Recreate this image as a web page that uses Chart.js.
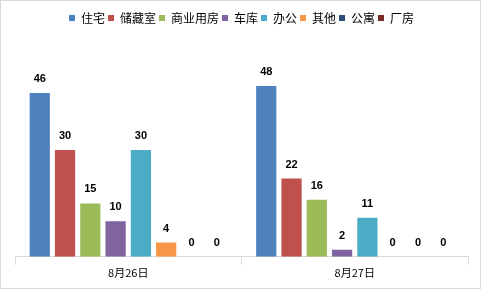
<!DOCTYPE html>
<html><head><meta charset="utf-8">
<script src="https://cdn.jsdelivr.net/npm/chart.js@4"></script>
<style>
html,body{margin:0;padding:0;background:#fff;}
#wrap{position:absolute;left:0;top:0;width:479px;height:287px;border:1px solid #d9d9d9;background:#fff;}
canvas{display:block;}
</style></head><body>
<div id="wrap"><canvas id="c" width="479" height="287"></canvas></div>
<script>
const categories = ["8月26日", "8月27日"];
const seriesNames = ["住宅", "储藏室", "商业用房", "车库", "办公", "其他", "公寓", "厂房"];
const seriesColors = ["#4F81BD", "#C0504D", "#9BBB59", "#8064A2", "#4BACC6", "#F79646", "#2C4D75", "#772C2A"];
const 住宅 = [46, 48];
const 储藏室 = [30, 22];
const 商业用房 = [15, 16];
const 车库 = [10, 2];
const 办公 = [30, 11];
const 其他 = [4, 0];
const 公寓 = [0, 0];
const 厂房 = [0, 0];
const seriesValues = [住宅, 储藏室, 商业用房, 车库, 办公, 其他, 公寓, 厂房];

const cjk = '"Noto Sans CJK SC", "Liberation Sans", sans-serif';

const labelPlugin = {
  id: 'valueLabels',
  afterDatasetsDraw(chart) {
    const ctx = chart.ctx;
    ctx.save();
    ctx.font = 'bold 11px "Liberation Sans", sans-serif';
    ctx.fillStyle = '#000';
    ctx.textAlign = 'center';
    ctx.textBaseline = 'middle';
    chart.data.datasets.forEach((ds, i) => {
      const meta = chart.getDatasetMeta(i);
      meta.data.forEach((bar, j) => {
        ctx.fillText(String(ds.data[j]), bar.x, bar.y - 14);
      });
    });
    ctx.restore();
  }
};

const legendSpace = {
  id: 'legendSpace',
  beforeInit(chart) {
    const orig = chart.legend.fit;
    chart.legend.fit = function () {
      orig.call(this);
      this.height += 27;
    };
  }
};

new Chart(document.getElementById('c'), {
  type: 'bar',
  data: {
    labels: categories,
    datasets: seriesNames.map((n, i) => ({
      label: n,
      data: seriesValues[i],
      backgroundColor: seriesColors[i],
      borderWidth: 0,
      categoryPercentage: 0.893,
      barPercentage: 0.8
    }))
  },
  options: {
    responsive: false,
    animation: false,
    devicePixelRatio: 1,
    layout: { padding: { left: 14, right: 12, top: 8, bottom: 8 } },
    plugins: {
      legend: {
        position: 'top',
        labels: {
          boxWidth: 6, boxHeight: 6, padding: 3,
          color: '#000',
          font: { family: cjk, size: 12 }
        }
      },
      tooltip: { enabled: false }
    },
    scales: {
      x: {
        grid: { display: true, drawOnChartArea: false, drawTicks: true, tickLength: 8, color: '#d9d9d9', offset: true },
        border: { display: true, color: '#d9d9d9' },
        ticks: { color: '#000', font: { family: cjk, size: 11 }, padding: 1 }
      },
      y: {
        display: false,
        min: 0, max: 55
      }
    }
  },
  plugins: [labelPlugin, legendSpace]
});
</script>
</body></html>
